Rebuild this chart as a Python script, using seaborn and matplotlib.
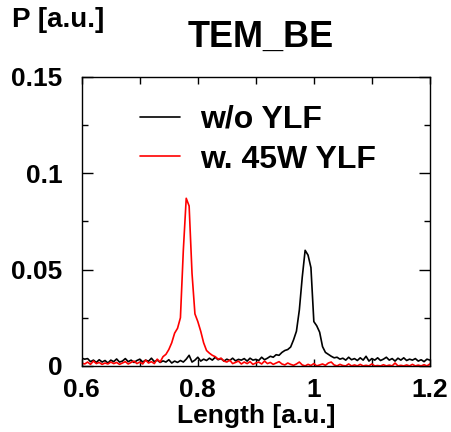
import matplotlib
matplotlib.use("Agg")
import matplotlib.pyplot as plt
import numpy as np
import pandas as pd
import seaborn as sns
from matplotlib.ticker import MultipleLocator

# x grid: 0.6 .. 1.2, step 0.005 (121 samples)
length = np.round(0.6 + 0.005 * np.arange(121), 3)

# w/o YLF (black)
p_without = [
    0.0040, 0.0035, 0.0038, 0.0022, 0.0030, 0.0018, 0.0032, 0.0020, 0.0028, 0.0015,
    0.0030, 0.0022, 0.0036, 0.0020, 0.0025, 0.0038, 0.0022, 0.0030, 0.0018, 0.0028,
    0.0035, 0.0020, 0.0030, 0.0024, 0.0040, 0.0022, 0.0030, 0.0018, 0.0026, 0.0020,
    0.0032, 0.0015, 0.0025, 0.0018, 0.0028, 0.0020, 0.0035, 0.0055, 0.0020, 0.0030,
    0.0045, 0.0025, 0.0035, 0.0028, 0.0040, 0.0030, 0.0045, 0.0032, 0.0038, 0.0025,
    0.0035, 0.0028, 0.0040, 0.0026, 0.0034, 0.0030, 0.0038, 0.0025, 0.0040, 0.0030,
    0.0034, 0.0028, 0.0045, 0.0032, 0.0040, 0.0050, 0.0045, 0.0058, 0.0055, 0.0070,
    0.0080, 0.0085, 0.0098, 0.0135, 0.0180, 0.0290, 0.0460, 0.0600, 0.0575, 0.0510,
    0.0230, 0.0208, 0.0175, 0.0100, 0.0070, 0.0060, 0.0050, 0.0042, 0.0045, 0.0035,
    0.0040, 0.0030, 0.0045, 0.0032, 0.0038, 0.0028, 0.0042, 0.0030, 0.0050, 0.0025,
    0.0038, 0.0030, 0.0042, 0.0028, 0.0035, 0.0045, 0.0030, 0.0038, 0.0025, 0.0040,
    0.0030, 0.0042, 0.0028, 0.0035, 0.0030, 0.0038, 0.0025, 0.0032, 0.0022, 0.0035,
    0.0030,
]

# w. 45W YLF (red)
p_with = [
    0.0015, 0.0010, 0.0020, 0.0008, 0.0025, 0.0012, 0.0018, 0.0008, 0.0015, 0.0010,
    0.0020, 0.0012, 0.0018, 0.0008, 0.0015, 0.0022, 0.0010, 0.0018, 0.0025, 0.0012,
    0.0020, 0.0010, 0.0030, 0.0015, 0.0022, 0.0012, 0.0035, 0.0020, 0.0048, 0.0060,
    0.0085, 0.0120, 0.0170, 0.0195, 0.0250, 0.0600, 0.0870, 0.0830, 0.0480, 0.0270,
    0.0230, 0.0180, 0.0120, 0.0080, 0.0066, 0.0055, 0.0048, 0.0035, 0.0040, 0.0025,
    0.0020, 0.0030, 0.0012, 0.0018, 0.0025, 0.0010, 0.0020, 0.0012, 0.0022, 0.0008,
    0.0015, 0.0020, 0.0010, 0.0025, 0.0012, 0.0018, 0.0008, 0.0015, 0.0022, 0.0010,
    0.0005, 0.0015, 0.0008, 0.0003, 0.0010, 0.0020, 0.0005, 0.0000, 0.0008, 0.0002,
    0.0012, 0.0000, 0.0005, 0.0010, 0.0003, 0.0015, 0.0020, 0.0005, 0.0000, 0.0008,
    0.0002, 0.0000, 0.0010, 0.0000, 0.0005, 0.0000, 0.0008, 0.0000, 0.0003, 0.0000,
    0.0010, 0.0000, 0.0002, 0.0000, 0.0006, 0.0000, 0.0004, 0.0000, 0.0015, 0.0000,
    0.0003, 0.0000, 0.0005, 0.0000, 0.0008, 0.0000, 0.0004, 0.0000, 0.0006, 0.0000,
    0.0010,
]

sns.set_style("ticks")
plt.rcParams["font.family"] = ["Liberation Sans", "DejaVu Sans"]
plt.rcParams["font.weight"] = "bold"
plt.rcParams["text.color"] = "black"
plt.rcParams["axes.labelcolor"] = "black"
plt.rcParams["xtick.color"] = "black"
plt.rcParams["ytick.color"] = "black"

fig = plt.figure(figsize=(4.52, 4.32), dpi=100)
ax = fig.add_axes([0.181, 0.153, 0.770, 0.669])

df = pd.DataFrame({"length": length, "without": p_without, "with": p_with})

sns.lineplot(data=df, x="length", y="without", color="black", lw=1.2,
             label="w/o YLF", ax=ax)
sns.lineplot(data=df, x="length", y="with", color="red", lw=1.2,
             label="w. 45W YLF", ax=ax)

ax.set_xlim(0.6, 1.2)
ax.set_ylim(0, 0.15)
ax.xaxis.set_major_locator(MultipleLocator(0.2))
ax.xaxis.set_minor_locator(MultipleLocator(0.1))
ax.yaxis.set_major_locator(MultipleLocator(0.05))
ax.yaxis.set_minor_locator(MultipleLocator(0.025))
ax.set_xticks([0.6, 0.8, 1.0, 1.2], ["0.6", "0.8", "1", "1.2"])
ax.set_yticks([0, 0.05, 0.1, 0.15], ["0", "0.05", "0.1", "0.15"])

ax.tick_params(which="both", direction="in", top=True, right=True,
               labelsize=19, width=1, color="black", labelcolor="black")
ax.tick_params(axis="x", which="both", length=5, pad=9)
ax.tick_params(axis="y", which="major", length=8, pad=14)
ax.tick_params(axis="y", which="minor", length=4)
for s in ax.spines.values():
    s.set_color("black")
    s.set_linewidth(1)

ax.set_xlabel("Length [a.u.]", fontsize=19, fontweight="bold", labelpad=1,
              color="black")
ax.set_ylabel("")

fig.text(261 / 452, 1 - 47 / 432, "TEM_BE", fontsize=26, fontweight="bold",
         ha="center", va="baseline", color="black")
fig.text(12 / 452, 1 - 7 / 432, "P [a.u.]", fontsize=20, fontweight="bold",
         ha="left", va="top", color="black")

ax.legend(loc="upper left", bbox_to_anchor=(140 / 452, 1 - 105 / 432),
          bbox_transform=fig.transFigure, frameon=False, fontsize=23,
          handlelength=1.25, handletextpad=0.62, borderpad=0, borderaxespad=0,
          labelspacing=0.3)

fig.savefig("out.png", dpi=100)
